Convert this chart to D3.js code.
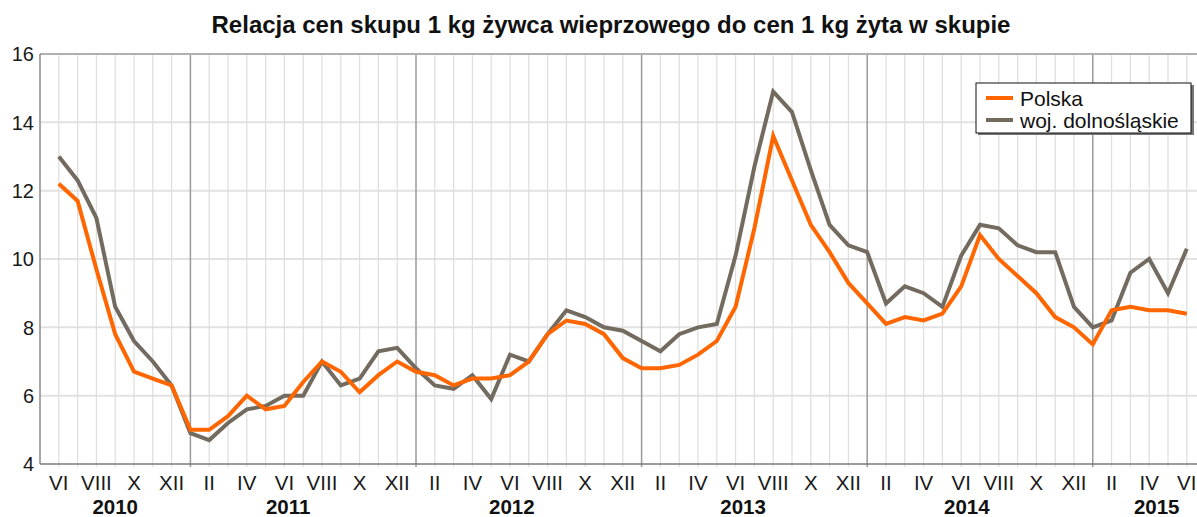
<!DOCTYPE html>
<html>
<head>
<meta charset="utf-8">
<script src="https://cdn.jsdelivr.net/npm/d3@7"></script>
<style>
  body { margin: 0; background: #fff; }
  svg { display: block; font-family: "Liberation Sans", Arial, sans-serif; }
</style>
</head>
<body>
<svg id="chart" width="1197" height="517"></svg>
<script>
// miesiące od VI 2010 do VI 2015
var romans = ['I','II','III','IV','V','VI','VII','VIII','IX','X','XI','XII'];
var startYear = 2010, startMonth = 6;
var months = d3.range(61).map(function(i) {
    var m = (startMonth - 1 + i) % 12;
    return { year: startYear + Math.floor((startMonth - 1 + i) / 12), month: m + 1, label: romans[m] };
});

var polska = [
    12.2, 11.7, 9.7, 7.8, 6.7, 6.5, 6.3,
    5.0, 5.0, 5.4, 6.0, 5.6, 5.7, 6.4, 7.0, 6.7, 6.1, 6.6, 7.0,
    6.7, 6.6, 6.3, 6.5, 6.5, 6.6, 7.0, 7.8, 8.2, 8.1, 7.8, 7.1,
    6.8, 6.8, 6.9, 7.2, 7.6, 8.6, 10.9, 13.6, 12.3, 11.0, 10.2, 9.3,
    8.7, 8.1, 8.3, 8.2, 8.4, 9.2, 10.7, 10.0, 9.5, 9.0, 8.3, 8.0,
    7.5, 8.5, 8.6, 8.5, 8.5, 8.4
];
var dolnoslaskie = [
    13.0, 12.3, 11.2, 8.6, 7.6, 7.0, 6.3,
    4.9, 4.7, 5.2, 5.6, 5.7, 6.0, 6.0, 7.0, 6.3, 6.5, 7.3, 7.4,
    6.8, 6.3, 6.2, 6.6, 5.9, 7.2, 7.0, 7.8, 8.5, 8.3, 8.0, 7.9,
    7.6, 7.3, 7.8, 8.0, 8.1, 10.1, 12.7, 14.9, 14.3, 12.6, 11.0, 10.4,
    10.2, 8.7, 9.2, 9.0, 8.6, 10.1, 11.0, 10.9, 10.4, 10.2, 10.2, 8.6,
    8.0, 8.2, 9.6, 10.0, 9.0, 10.3
];
var yTicks = [4, 6, 8, 10, 12, 14, 16];
var series = [
    { name: 'Polska', values: polska, color: '#ff6600' },
    { name: 'woj. dolnośląskie', values: dolnoslaskie, color: '#736b5f' }
];

var title = 'Relacja cen skupu 1 kg żywca wieprzowego do cen 1 kg żyta w skupie';

var svg = d3.select('#chart');
var plotLeft = 40, plotTop = 54, plotBottom = 464, step = 18.8;

var x = d3.scaleLinear().domain([-1, 61]).range([plotLeft, plotLeft + 62 * step]);
var y = d3.scaleLinear().domain([4, 16]).range([plotBottom, plotTop]);

// tytuł
svg.append('text')
    .attr('x', 611).attr('y', 33)
    .attr('text-anchor', 'middle')
    .attr('font-size', 24).attr('font-weight', 'bold')
    .attr('fill', '#111')
    .text(title);

// siatka pozioma
svg.append('g').selectAll('line')
    .data(yTicks.slice(1, -1))
    .enter().append('line')
    .attr('x1', plotLeft).attr('x2', 1197)
    .attr('y1', y).attr('y2', y)
    .attr('stroke', '#e2e2e2').attr('stroke-width', 2);

// siatka pionowa - co miesiąc
svg.append('g').selectAll('line')
    .data(months)
    .enter().append('line')
    .attr('x1', function(d, i) { return x(i); })
    .attr('x2', function(d, i) { return x(i); })
    .attr('y1', plotTop).attr('y2', plotBottom + 3)
    .attr('stroke', function(d) { return d.month == 1 ? '#9a9a9a' : '#dedede'; })
    .attr('stroke-width', function(d) { return d.month == 1 ? 1.5 : 1.2; });

// górna krawędź i osie
svg.append('line').attr('x1', plotLeft).attr('x2', 1197).attr('y1', plotTop).attr('y2', plotTop)
    .attr('stroke', '#b0b0b0').attr('stroke-width', 2);
svg.append('line').attr('x1', plotLeft).attr('x2', plotLeft).attr('y1', plotTop).attr('y2', plotBottom)
    .attr('stroke', '#8a8a8a').attr('stroke-width', 1.5);
svg.append('line').attr('x1', plotLeft).attr('x2', 1197).attr('y1', plotBottom).attr('y2', plotBottom)
    .attr('stroke', '#7a7a7a').attr('stroke-width', 1.5);

// etykiety osi Y
svg.append('g').selectAll('text')
    .data(yTicks)
    .enter().append('text')
    .attr('x', 34).attr('y', y)
    .attr('dy', '0.36em')
    .attr('text-anchor', 'end')
    .attr('font-size', 20).attr('fill', '#1a1a1a')
    .text(function(d) { return d; });

// etykiety miesięcy (co drugi)
svg.append('g').selectAll('text')
    .data(months.filter(function(d) { return d.month % 2 == 0; }))
    .enter().append('text')
    .attr('x', function(d) { return x(months.indexOf(d)); })
    .attr('y', 490)
    .attr('text-anchor', 'middle')
    .attr('font-size', 20.5).attr('fill', '#1a1a1a')
    .text(function(d) { return d.label; });

// etykiety lat
var yearPos = { 2010: 3, 2011: 12.2, 2012: 24.1, 2013: 36.4, 2014: 48.3, 2015: 58.4 };
var years = d3.groups(months, function(d) { return d.year; }).map(function(g) { return g[0]; });
svg.append('g').selectAll('text')
    .data(years)
    .enter().append('text')
    .attr('x', function(d) { return x(yearPos[d]); })
    .attr('y', 514)
    .attr('text-anchor', 'middle')
    .attr('font-size', 20.5).attr('font-weight', 'bold').attr('fill', '#111')
    .text(function(d) { return d; });

// linie
var line = d3.line()
    .x(function(d, i) { return x(i); })
    .y(function(d) { return y(d); });

svg.append('g').selectAll('path')
    .data(series.slice().reverse())
    .enter().append('path')
    .attr('d', function(s) { return line(s.values); })
    .attr('fill', 'none')
    .attr('stroke', function(s) { return s.color; })
    .attr('stroke-width', 4)
    .attr('stroke-linejoin', 'miter');

// legenda
var lg = svg.append('g').attr('transform', 'translate(976,83)');
lg.append('rect').attr('x', 2).attr('y', 2).attr('width', 216).attr('height', 50).attr('fill', '#777');
lg.append('rect').attr('width', 215).attr('height', 50)
    .attr('fill', '#fff').attr('stroke', '#111').attr('stroke-width', 1);
var item = lg.selectAll('g.item')
    .data(series)
    .enter().append('g')
    .attr('transform', function(d, i) { return 'translate(10,' + (15 + i * 22) + ')'; });
item.append('line').attr('x1', 0).attr('x2', 27)
    .attr('stroke', function(d) { return d.color; }).attr('stroke-width', 4);
item.append('text').attr('x', 34).attr('dy', '0.36em')
    .attr('font-size', 21).attr('fill', '#111')
    .text(function(d) { return d.name; });
</script>
</body>
</html>
